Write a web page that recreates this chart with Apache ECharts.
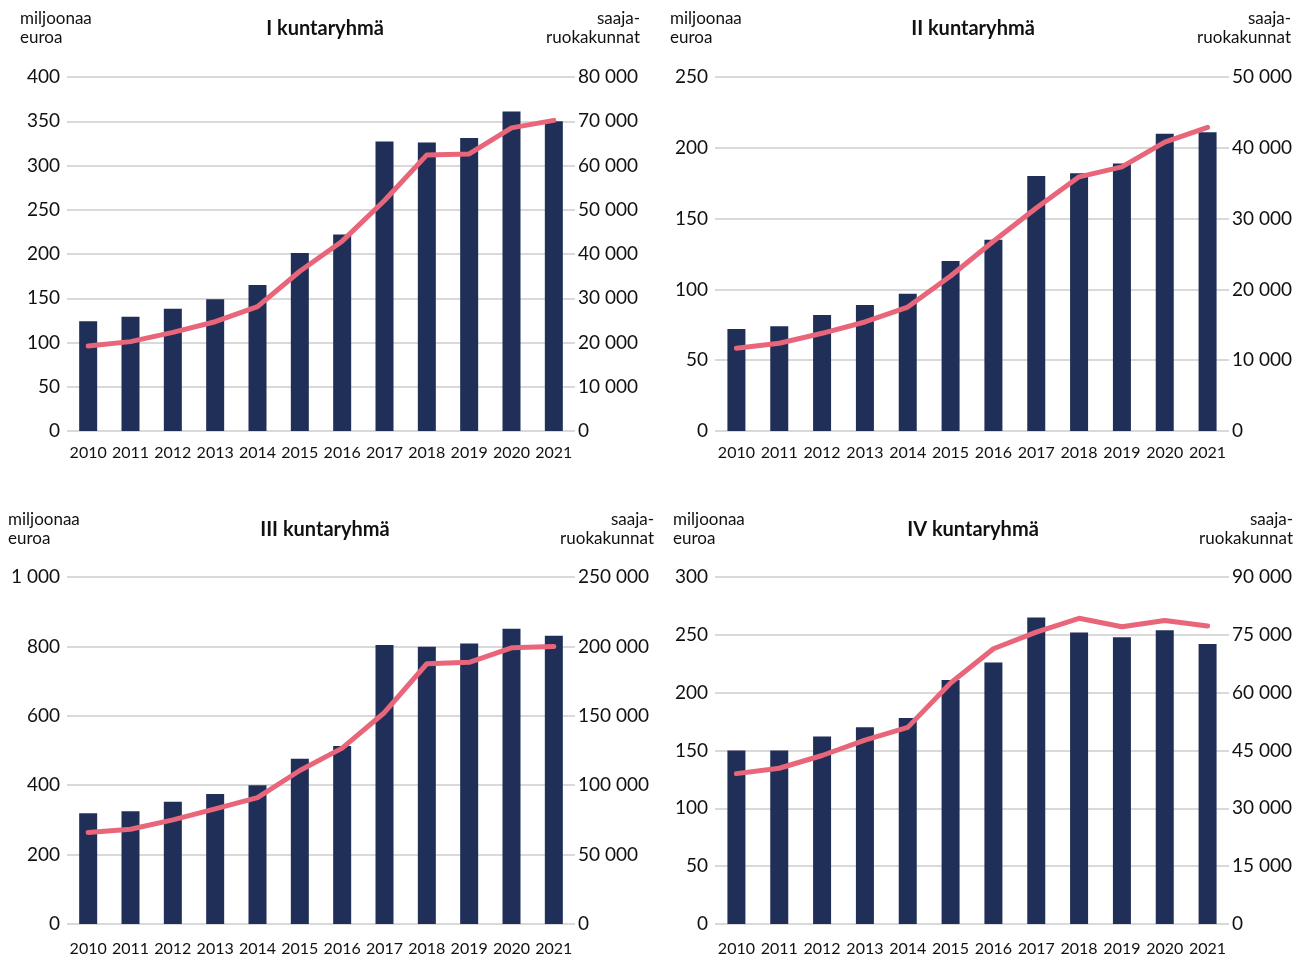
<!DOCTYPE html>
<html>
<head>
<meta charset="utf-8">
<script src="https://cdn.jsdelivr.net/npm/echarts@6/dist/echarts.min.js"></script>
<style>
  html, body {margin:0; padding:0; background:#fff;}
  #chart {width:1295px; height:957px;}
</style>
</head>
<body>
<div id="chart"></div>
<script>
// vuodet ja sarjat
var vuodet = ['2010','2011','2012','2013','2014','2015','2016','2017','2018','2019','2020','2021'];
var otsikot = ['I kuntaryhmä','II kuntaryhmä','III kuntaryhmä','IV kuntaryhmä'];

var euroI   = [124, 129, 138, 149, 165, 201, 222, 327, 326, 331, 361, 350];
var ruokaI  = [19200, 20200, 22300, 24700, 28100, 36100, 42900, 52100, 62400, 62600, 68500, 70200];
var euroII  = [72, 74, 82, 89, 97, 120, 135, 180, 182, 189, 210, 211];
var ruokaII = [11700, 12400, 13800, 15400, 17500, 21900, 26800, 31500, 35900, 37300, 40800, 42900];
var euroIII = [319, 325, 352, 375, 400, 476, 513, 804, 799, 808, 851, 831];
var ruokaIII= [65900, 68300, 75000, 82900, 91100, 110600, 126700, 152400, 187500, 188500, 199000, 200000];
var euroIV  = [150, 150, 162, 170, 178, 211, 226, 265, 252, 248, 254, 242];
var ruokaIV = [39000, 40400, 43700, 47700, 51000, 62500, 71400, 75700, 79300, 77100, 78700, 77300];

// akselien asteikot [max, väli]
var vasenAs = [[400, 50], [250, 50], [1000, 200], [300, 50]];
var oikeaAs = [[80000, 10000], [50000, 10000], [250000, 50000], [90000, 15000]];

var euro = [euroI, euroII, euroIII, euroIV];
var ruoka = [ruokaI, ruokaII, ruokaIII, ruokaIV];

var FONT = 'Lato, "Open Sans", sans-serif';
var BAR = '#202f58';
var LINE = '#e8657a';
var GRIDC = '#d9d9d9';

function fmt(v) {
    return String(v).replace(/\B(?=(\d{3})+(?!\d))/g, ' ');
}

// ruudukot
var grids = [
    {left: 67,  top: 77,  width: 508, height: 354},
    {left: 715, top: 77,  width: 514, height: 354},
    {left: 67,  top: 577, width: 508, height: 347},
    {left: 715, top: 577, width: 514, height: 348}
];

var xAxis = [], yAxis = [], series = [], graphic = [], title = [];
var unitPos = [
    {l: 20,  r: 640,  y: 9},
    {l: 670, r: 1291, y: 9},
    {l: 8,   r: 654,  y: 510},
    {l: 673, r: 1293, y: 510}
];
var titleX = [320, 968, 320, 968];
var xMargin = [14, 14, 17, 17];

for (var i = 0; i < 4; i++) {
    xAxis.push({
        type: 'category',
        gridIndex: i,
        data: vuodet,
        axisLine: {show: false},
        axisTick: {show: false},
        axisLabel: {color: '#111', fontFamily: FONT, fontSize: 16, margin: xMargin[i], interval: 0}
    });
    yAxis.push({
        type: 'value',
        gridIndex: i,
        min: 0,
        max: vasenAs[i][0],
        interval: vasenAs[i][1],
        axisLine: {show: false},
        axisTick: {show: false},
        splitLine: {lineStyle: {color: GRIDC, width: 2}},
        axisLabel: {color: '#111', fontFamily: FONT, fontSize: 19, margin: 7, formatter: fmt}
    });
    yAxis.push({
        type: 'value',
        gridIndex: i,
        position: 'right',
        min: 0,
        max: oikeaAs[i][0],
        interval: oikeaAs[i][1],
        axisLine: {show: false},
        axisTick: {show: false},
        splitLine: {show: false},
        axisLabel: {color: '#111', fontFamily: FONT, fontSize: 19, margin: 3, formatter: fmt}
    });
    series.push({
        name: 'miljoonaa euroa',
        type: 'bar',
        xAxisIndex: i,
        yAxisIndex: i * 2,
        barWidth: 18,
        itemStyle: {color: BAR},
        data: euro[i]
    });
    series.push({
        name: 'saajaruokakunnat',
        type: 'line',
        xAxisIndex: i,
        yAxisIndex: i * 2 + 1,
        symbol: 'none',
        lineStyle: {color: LINE, width: 5, cap: 'round', join: 'round'},
        data: ruoka[i]
    });
    title.push({
        text: otsikot[i],
        left: titleX[i],
        top: unitPos[i].y + 5,
        textAlign: 'center',
        textStyle: {fontFamily: FONT, fontSize: 20, fontWeight: 'bold', color: '#111'}
    });
    graphic.push({
        type: 'text',
        left: unitPos[i].l,
        top: unitPos[i].y,
        style: {text: 'miljoonaa\neuroa', font: '17px ' + FONT, fill: '#111', lineHeight: 19}
    });
    graphic.push({
        type: 'text',
        right: 1295 - unitPos[i].r,
        top: unitPos[i].y,
        style: {text: 'saaja-', font: '17px ' + FONT, fill: '#111', lineHeight: 19}
    });
    graphic.push({
        type: 'text',
        right: 1295 - unitPos[i].r,
        top: unitPos[i].y + 19,
        style: {text: 'ruokakunnat', font: '17px ' + FONT, fill: '#111', lineHeight: 19}
    });
}

var chart = echarts.init(document.getElementById('chart'), null, {renderer: 'canvas'});
chart.setOption({
    animation: false,
    title: title,
    grid: grids,
    xAxis: xAxis,
    yAxis: yAxis,
    series: series,
    graphic: graphic
});
</script>
</body>
</html>
